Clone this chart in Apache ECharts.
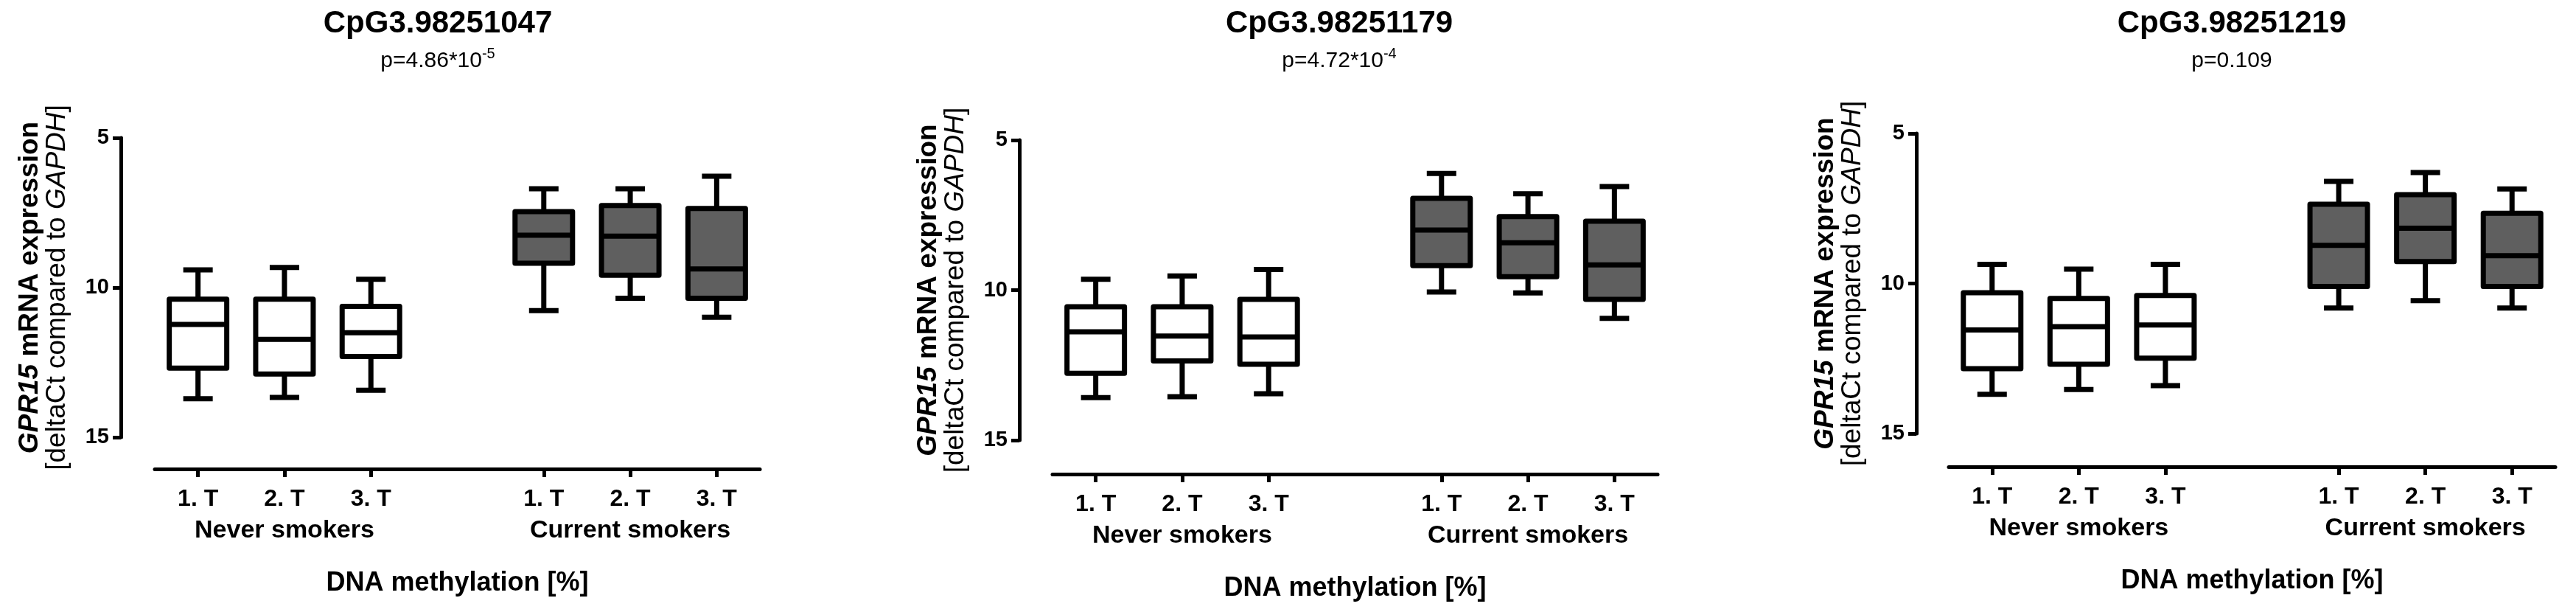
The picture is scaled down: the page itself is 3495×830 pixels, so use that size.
<!DOCTYPE html>
<html><head><meta charset="utf-8">
<script src="https://cdn.jsdelivr.net/npm/echarts@6/dist/echarts.min.js"></script>
<style>html,body{margin:0;padding:0;background:#fff}#c{width:3495px;height:830px}</style>
</head><body><div id="c"></div>
<script>
// ---------------- data ----------------
const categories = ['1. T', '2. T', '3. T', '', '1. T', '2. T', '3. T'];
const groupLabels = ['', 'Never smokers', '', '', '', 'Current smokers', ''];
const neverIdx = [0, 1, 2];
const currentIdx = [4, 5, 6];
const yTickValues = [5, 10, 15];
const cpgSites = ['CpG3.98251047', 'CpG3.98251179', 'CpG3.98251219'];
const pMantissa = ['p=4.86*10', 'p=4.72*10', 'p=0.109'];
const pExponent = ['-5', '-4', ''];
const yTitleGene = 'GPR15';
const yTitleRest = ' mRNA expression';
const yTitleLine2a = '[deltaCt compared to ';
const yTitleRef = 'GAPDH';
const yTitleLine2b = ']';
const xAxisTitle = 'DNA methylation [%]';

// each box: [upper whisker, box top (Q1), median, box bottom (Q3), lower whisker] in deltaCt
const never1047 = [[9.41, 10.39, 11.23, 12.69, 13.71], [9.33, 10.39, 11.73, 12.89, 13.67], [9.72, 10.63, 11.51, 12.30, 13.43]];
const current1047 = [[6.70, 7.46, 8.25, 9.19, 10.77], [6.70, 7.26, 8.28, 9.59, 10.36], [6.28, 7.36, 9.38, 10.36, 10.99]];
const never1179 = [[9.64, 10.55, 11.39, 12.77, 13.58], [9.53, 10.55, 11.53, 12.36, 13.55], [9.31, 10.31, 11.56, 12.47, 13.45]];
const current1179 = [[6.11, 6.94, 8.00, 9.18, 10.06], [6.79, 7.55, 8.42, 9.55, 10.09], [6.55, 7.70, 9.16, 10.31, 10.94]];
const never1219 = [[9.36, 10.31, 11.55, 12.84, 13.69], [9.52, 10.50, 11.44, 12.69, 13.53], [9.36, 10.40, 11.38, 12.49, 13.40]];
const current1219 = [[6.60, 7.36, 8.73, 10.10, 10.82], [6.30, 7.04, 8.16, 9.27, 10.57], [6.85, 7.66, 9.07, 10.10, 10.82]];

const neverSets = [never1047, never1179, never1219];
const currentSets = [current1047, current1179, current1219];

// ---------------- layout / style ----------------
const FONT = "'Liberation Sans', Arial, sans-serif";
const panels = [
  {left: 210, width: 821, top: 187, height: 406, yOff: 46, xOff: 43, cx: 594},
  {left: 1428, width: 821, top: 190, height: 407, yOff: 45, xOff: 46, cx: 1817},
  {left: 2644, width: 823, top: 181, height: 407, yOff: 44, xOff: 45, cx: 3028}
];
const GRAY = '#5f5f5f';

function renderBox(params, api) {
  const c = api.value(0);
  const filled = api.value(6) === 1;
  const pWT = api.coord([c, api.value(1)]);
  const pBT = api.coord([c, api.value(2)]);
  const pMed = api.coord([c, api.value(3)]);
  const pBB = api.coord([c, api.value(4)]);
  const pWB = api.coord([c, api.value(5)]);
  const x = pMed[0], hw = 39, cw = 20;
  const ls = {stroke: '#000', lineWidth: 7};
  return {type: 'group', children: [
    {type: 'line', shape: {x1: x, y1: pWT[1], x2: x, y2: pWB[1]}, style: ls},
    {type: 'line', shape: {x1: x - cw, y1: pWT[1], x2: x + cw, y2: pWT[1]}, style: ls},
    {type: 'line', shape: {x1: x - cw, y1: pWB[1], x2: x + cw, y2: pWB[1]}, style: ls},
    {type: 'rect', shape: {x: x - hw, y: pBT[1], width: 2 * hw, height: pBB[1] - pBT[1]},
      style: {fill: filled ? GRAY : '#ffffff', stroke: '#000', lineWidth: 7, lineJoin: 'round'}},
    {type: 'line', shape: {x1: x - hw, y1: pMed[1], x2: x + hw, y2: pMed[1]}, style: ls}
  ]};
}

const grid = [], xAxis = [], yAxis = [], series = [], title = [];
const yName = '{bi|' + yTitleGene + '}{b|' + yTitleRest + '}\n{r|' + yTitleLine2a + '}{ri|' + yTitleRef + '}{r|' + yTitleLine2b + '}';
const yRich = {
  bi: {fontFamily: FONT, fontSize: 37, lineHeight: 37, fontWeight: 'bold', fontStyle: 'italic', color: '#000'},
  b: {fontFamily: FONT, fontSize: 37, lineHeight: 37, fontWeight: 'bold', color: '#000'},
  r: {fontFamily: FONT, fontSize: 37, lineHeight: 37, fontWeight: 'normal', color: '#000'},
  ri: {fontFamily: FONT, fontSize: 37, lineHeight: 37, fontWeight: 'normal', fontStyle: 'italic', color: '#000'}
};

panels.forEach((p, i) => {
  grid.push({left: p.left, top: p.top, width: p.width, height: p.height, containLabel: false, outerBoundsMode: 'none'});
  xAxis.push({
    gridIndex: i, type: 'category', data: categories, position: 'bottom', offset: p.xOff,
    boundaryGap: true,
    axisLine: {show: true, onZero: false, lineStyle: {color: '#000', width: 5}},
    axisTick: {show: true, alignWithLabel: true, length: 11, lineStyle: {color: '#000', width: 5},
      interval: (idx) => categories[idx] !== ''},
    axisLabel: {
      interval: 0, margin: 18, color: '#000',
      formatter: (val, idx) => groupLabels[idx] ? '{t|' + val + '}\n{g|' + groupLabels[idx] + '}' : '{t|' + val + '}',
      rich: {
        t: {fontFamily: FONT, fontSize: 32, fontWeight: 'bold', lineHeight: 46, color: '#000'},
        g: {fontFamily: FONT, fontSize: 34, fontWeight: 'bold', lineHeight: 40, color: '#000'}
      }
    },
    splitLine: {show: false},
    name: xAxisTitle, nameLocation: 'middle', nameGap: 137, nameMoveOverlap: false,
    nameTextStyle: {fontFamily: FONT, fontSize: 36, fontWeight: 'bold', color: '#000', verticalAlign: 'top'}
  });
  yAxis.push({
    gridIndex: i, type: 'value', inverse: true, min: yTickValues[0], max: yTickValues[yTickValues.length - 1],
    interval: yTickValues[1] - yTickValues[0], offset: p.yOff, position: 'left',
    axisLine: {show: true, onZero: false, lineStyle: {color: '#000', width: 5}},
    axisTick: {show: true, length: 11, lineStyle: {color: '#000', width: 5}},
    axisLabel: {margin: 16, fontFamily: FONT, fontSize: 29, fontWeight: 'bold', color: '#000'},
    splitLine: {show: false},
    name: yName, nameLocation: 'middle', nameGap: 68, nameRotate: 90, nameMoveOverlap: false,
    nameTextStyle: {fontFamily: FONT, fontSize: 37, lineHeight: 37, color: '#000', rich: yRich}
  });
  const data = [];
  neverSets[i].forEach((b, k) => data.push([neverIdx[k], b[0], b[1], b[2], b[3], b[4], 0]));
  currentSets[i].forEach((b, k) => data.push([currentIdx[k], b[0], b[1], b[2], b[3], b[4], 1]));
  series.push({
    type: 'custom', xAxisIndex: i, yAxisIndex: i, renderItem: renderBox, clip: false,
    encode: {x: 0, y: [1, 2, 3, 4, 5]}, data: data, silent: true, animation: false
  });
  title.push({
    text: cpgSites[i], left: p.cx, top: 11, textAlign: 'center', padding: 0,
    textStyle: {fontFamily: FONT, fontSize: 42, fontWeight: 'bold', color: '#000'}
  });
  const pText = '{m|' + pMantissa[i] + '}' + (pExponent[i] ? '{s|' + pExponent[i] + '}' : '');
  title.push({
    text: pText, left: p.cx, top: 63, textAlign: 'center', padding: 0,
    textStyle: {
      fontFamily: FONT, fontSize: 30, fontWeight: 'normal', color: '#000',
      rich: {
        m: {fontFamily: FONT, fontSize: 30, fontWeight: 'normal', lineHeight: 39, color: '#000'},
        s: {fontFamily: FONT, fontSize: 20, fontWeight: 'normal', lineHeight: 20, color: '#000', verticalAlign: 'top'}
      }
    }
  });
});

const chart = echarts.init(document.getElementById('c'), null, {renderer: 'canvas'});
chart.setOption({animation: false, backgroundColor: '#ffffff', title, grid, xAxis, yAxis, series});
</script>
</body></html>
